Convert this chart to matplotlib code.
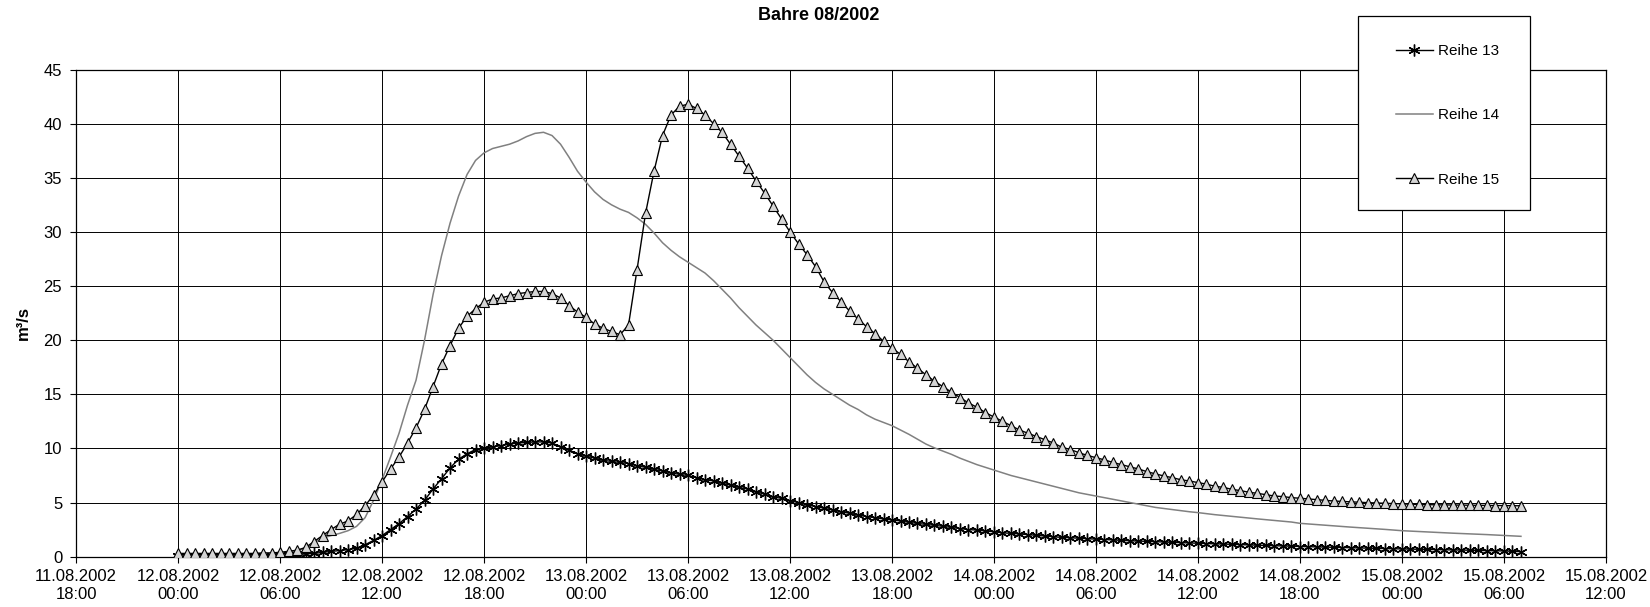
# Ganglinie Bahre 08/2002 - Reihe 13, 14, 15 (halbstündliche Werte)
import pandas as pd
import matplotlib.pyplot as plt
from matplotlib.patches import Rectangle

plt.rcParams['font.family'] = ['Liberation Sans', 'DejaVu Sans']

# Datenbeginn und Messintervall
start_time = "2002-08-12 00:00"
step = "30min"

# Werte in m³/s, je Zeile 6 Stunden (12 Werte)
reihe_13 = [
    0.05, 0.05, 0.05, 0.05, 0.05, 0.05, 0.05, 0.05, 0.05, 0.08, 0.1, 0.1,
    0.12, 0.15, 0.2, 0.25, 0.3, 0.4, 0.48, 0.57, 0.65, 0.78, 1.1, 1.5,
    1.95, 2.5, 3.05, 3.7, 4.4, 5.2, 6.25, 7.2, 8.2, 9.0, 9.5, 9.9,
    10.0, 10.15, 10.25, 10.4, 10.5, 10.55, 10.6, 10.6, 10.5, 10.15, 9.85, 9.5,
    9.3, 9.1, 8.9, 8.8, 8.7, 8.6, 8.4, 8.25, 8.07, 7.9, 7.75, 7.6,
    7.5, 7.3, 7.1, 7.0, 6.8, 6.6, 6.4, 6.25, 6.0, 5.76, 5.54, 5.38,
    5.17, 5.0, 4.78, 4.63, 4.48, 4.3, 4.16, 4.0, 3.85, 3.7, 3.6, 3.48,
    3.4, 3.3, 3.17, 3.07, 2.98, 2.9, 2.8, 2.7, 2.6, 2.5, 2.46, 2.37,
    2.3, 2.2, 2.16, 2.1, 2.03, 1.97, 1.9, 1.84, 1.78, 1.75, 1.7, 1.66,
    1.62, 1.58, 1.54, 1.5, 1.47, 1.44, 1.41, 1.38, 1.35, 1.32, 1.29, 1.26,
    1.24, 1.21, 1.19, 1.16, 1.14, 1.11, 1.09, 1.06, 1.04, 1.01, 0.99, 0.96,
    0.94, 0.92, 0.9, 0.88, 0.86, 0.84, 0.82, 0.8, 0.78, 0.76, 0.75, 0.73,
    0.72, 0.7, 0.68, 0.67, 0.65, 0.64, 0.62, 0.61, 0.59, 0.58, 0.56, 0.55,
    0.53, 0.5, 0.46,
]

reihe_14 = [
    0.1, 0.1, 0.1, 0.1, 0.1, 0.1, 0.1, 0.1, 0.1, 0.1, 0.12, 0.14,
    0.2, 0.35, 0.55, 0.8, 1.3, 1.7, 1.95, 2.15, 2.4, 2.8, 3.6, 5.2,
    7.1, 9.2, 11.4, 14.0, 16.3, 20.0, 24.2, 27.8, 30.8, 33.3, 35.3, 36.6,
    37.3, 37.7, 37.9, 38.1, 38.4, 38.8, 39.1, 39.2, 38.9, 38.1, 36.9, 35.6,
    34.6, 33.7, 33.0, 32.5, 32.1, 31.8, 31.3, 30.7, 29.9, 29.0, 28.3, 27.7,
    27.2, 26.7, 26.2, 25.5, 24.7, 23.9, 23.0, 22.2, 21.4, 20.7, 20.0, 19.2,
    18.4, 17.6, 16.8, 16.1, 15.5, 15.0, 14.5, 14.0, 13.6, 13.1, 12.7, 12.4,
    12.1, 11.7, 11.3, 10.85, 10.4, 10.05, 9.75, 9.45, 9.1, 8.8, 8.5, 8.25,
    8.0, 7.75, 7.5, 7.3, 7.1, 6.9, 6.7, 6.5, 6.3, 6.1, 5.9, 5.75,
    5.6, 5.45, 5.3, 5.15, 5.0, 4.85, 4.7, 4.55, 4.45, 4.35, 4.25, 4.15,
    4.07, 3.97, 3.88, 3.8, 3.72, 3.64, 3.56, 3.49, 3.42, 3.35, 3.28, 3.2,
    3.08, 3.02, 2.96, 2.9, 2.84, 2.78, 2.73, 2.68, 2.62, 2.57, 2.52, 2.46,
    2.4, 2.36, 2.32, 2.28, 2.24, 2.2, 2.17, 2.14, 2.1, 2.07, 2.04, 2.0,
    1.97, 1.93, 1.88,
]

reihe_15 = [
    0.3, 0.3, 0.3, 0.3, 0.3, 0.3, 0.3, 0.3, 0.3, 0.3, 0.35, 0.35,
    0.4, 0.5, 0.6, 0.85, 1.4, 1.95, 2.5, 3.0, 3.3, 3.9, 4.7, 5.7,
    6.9, 8.1, 9.2, 10.5, 11.9, 13.6, 15.7, 17.8, 19.5, 21.1, 22.2, 22.9,
    23.5, 23.8, 23.9, 24.1, 24.3, 24.4, 24.5, 24.5, 24.3, 23.9, 23.2, 22.6,
    22.1, 21.5, 21.1, 20.8, 20.5, 21.4, 26.5, 31.7, 35.6, 38.9, 40.8, 41.6,
    41.8, 41.4, 40.8, 40.0, 39.2, 38.1, 37.0, 35.9, 34.7, 33.6, 32.4, 31.2,
    30.0, 28.9, 27.9, 26.8, 25.4, 24.4, 23.55, 22.7, 21.96, 21.25, 20.6, 19.9,
    19.25, 18.7, 18.0, 17.4, 16.8, 16.2, 15.7, 15.2, 14.7, 14.2, 13.8, 13.3,
    12.9, 12.5, 12.1, 11.7, 11.4, 11.1, 10.8, 10.5, 10.1, 9.9, 9.6, 9.35,
    9.15, 8.94, 8.7, 8.5, 8.3, 8.1, 7.85, 7.65, 7.45, 7.3, 7.1, 6.99,
    6.84, 6.7, 6.5, 6.4, 6.22, 6.1, 5.95, 5.85, 5.73, 5.6, 5.55, 5.45,
    5.4, 5.33, 5.27, 5.2, 5.14, 5.1, 5.05, 5.02, 4.99, 4.96, 4.93, 4.9,
    4.86, 4.84, 4.82, 4.8, 4.79, 4.78, 4.77, 4.76, 4.75, 4.74, 4.73, 4.72,
    4.71, 4.7, 4.7,
]

series_names = ["Reihe 13", "Reihe 14", "Reihe 15"]
y_ticks = [0, 5, 10, 15, 20, 25, 30, 35, 40, 45]
x_start = "2002-08-11 18:00"
x_end = "2002-08-15 12:00"

times = pd.date_range(start_time, periods=len(reihe_13), freq=step)
x_ticks = pd.date_range(x_start, x_end, freq="6h")

fig = plt.figure(figsize=(16.5, 6.07), dpi=100)
ax = fig.add_axes([0.0461, 0.0829, 0.9272, 0.8026])

ax.plot(times, reihe_13, color="black", lw=1.0, marker=(6, 2, 0),
        markersize=8.5, markeredgewidth=1.0, label=series_names[0], zorder=3)
ax.plot(times, reihe_14, color="#808080", lw=1.1, label=series_names[1], zorder=2)
ax.plot(times, reihe_15, color="black", lw=1.0, marker="^", markersize=7,
        markerfacecolor="#d4d4d4", markeredgecolor="black", markeredgewidth=0.8,
        label=series_names[2], zorder=4)

ax.set_xlim(pd.Timestamp(x_start), pd.Timestamp(x_end))
ax.set_ylim(0, 45)
ax.set_xticks(x_ticks)
ax.set_xticklabels([t.strftime("%d.%m.%Y\n%H:%M") for t in x_ticks],
                   fontsize=12, linespacing=1.25)
ax.set_yticks(y_ticks)
ax.tick_params(axis="y", labelsize=12, length=4, width=0.8, pad=6)
ax.tick_params(axis="x", length=4, width=0.8, pad=5)
ax.grid(True, color="black", lw=0.7)
ax.set_axisbelow(True)
for side in ax.spines.values():
    side.set_color("black")
    side.set_linewidth(0.9)

fig.text(0.496, 0.975, "Bahre 08/2002", ha="center", va="center",
         fontsize=13, fontweight="bold")
fig.text(0.014, 0.468, "m³/s", ha="center", va="center", rotation=90,
         fontsize=12, fontweight="bold")

# Legendenkasten
box = Rectangle((1358 / 1650, 1 - 210 / 607), 172 / 1650, 194 / 607,
                transform=fig.transFigure, facecolor="white", edgecolor="black",
                lw=0.9, zorder=3)
fig.patches.append(box)
handles, labels = ax.get_legend_handles_labels()
fig.legend(handles, labels, loc="upper left",
           bbox_to_anchor=(1396 / 1650, 1 - 44 / 607), frameon=False,
           borderpad=0, borderaxespad=0, handlelength=2.4, handletextpad=0.35,
           labelspacing=3.3, fontsize=11)

fig.savefig("out.png", dpi=100)
